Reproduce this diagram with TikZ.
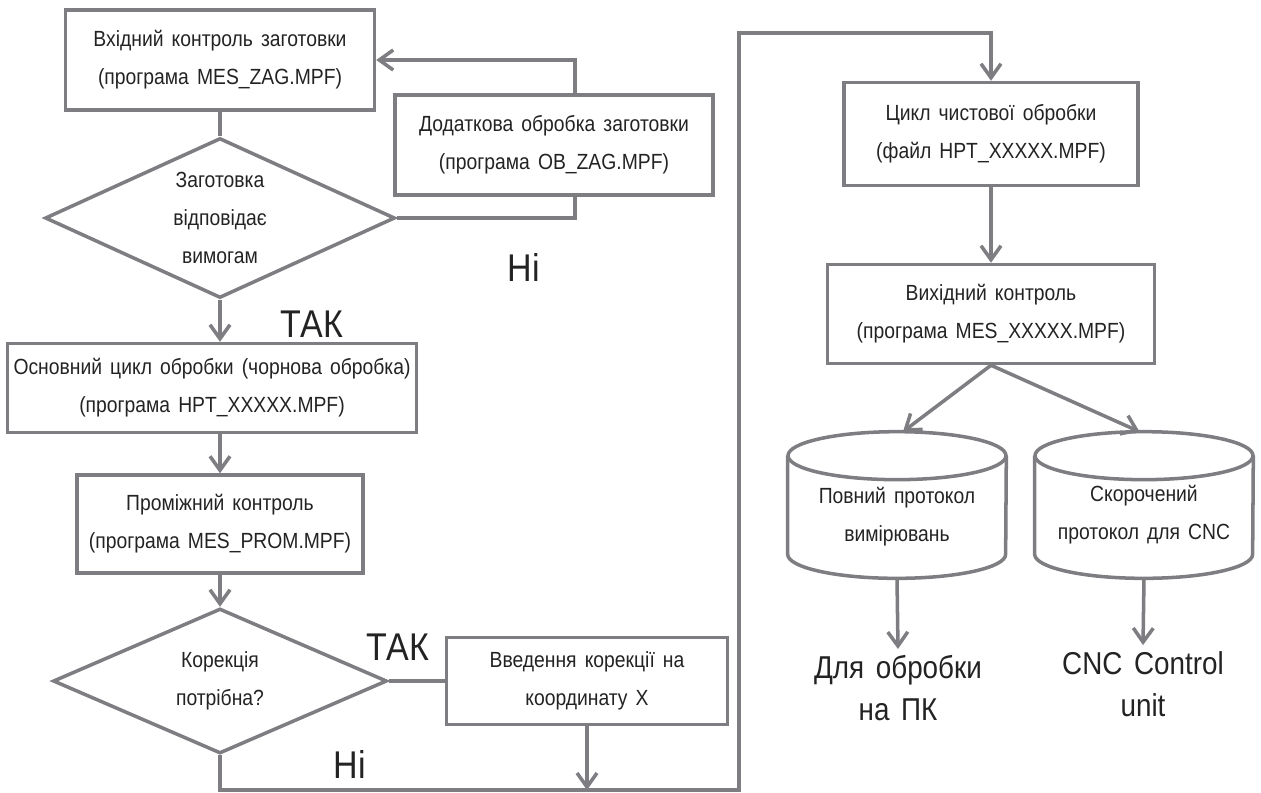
\documentclass[tikz,border=0pt]{standalone}
\usepackage{fontspec}
\setmainfont{Liberation Sans}[FakeStretch=0.88,WordSpace=1.5]
\usetikzlibrary{shapes.geometric,arrows.meta,calc}
\definecolor{linegray}{RGB}{125,125,130}
\definecolor{textgray}{RGB}{35,35,35}

\begin{document}
\begin{tikzpicture}[x=0.02cm,y=-0.02cm,
	conn/.style={draw=linegray,line width=2pt},
	arr/.style={conn,-{Straight Barb[length=2.8mm,width=4mm]}},
	box/.style={draw=linegray,line width=2pt,align=center,text=textgray,font=\fontsize{12.5}{21.5}\selectfont},
	dia/.style={diamond,draw=linegray,line width=2pt,inner sep=0pt},
	txt/.style={align=center,text=textgray,font=\fontsize{12.5}{21.5}\selectfont},
	answer/.style={text=textgray,font=\fontsize{22}{26}\selectfont},
	dest/.style={align=center,text=textgray,font=\fontsize{18}{24}\selectfont}]
	\useasboundingbox (0,0) rectangle (1261,792);
	
	
	
	% left column
	\node[box,minimum width=6.18cm,minimum height=2cm] (in1) at (220,60) {Вхідний контроль заготовки\\(програма MES\_ZAG.MPF)};
	\node[dia,minimum width=7cm,minimum height=3.2cm,label={[txt]center:Заготовка\\відповідає\\вимогам}] (d1) at (220,218) {};
	\node[box,minimum width=6.36cm,minimum height=2cm] (extra) at (554,145) {Додаткова обробка заготовки\\(програма OB\_ZAG.MPF)};
	\node[box,minimum width=8.1cm,minimum height=1.78cm] (rough) at (212,388) {Основний цикл обробки (чорнова обробка)\\(програма HPT\_XXXXX.MPF)};
	\node[box,minimum width=5.72cm,minimum height=1.96cm] (mid) at (220,524) {Проміжний контроль\\(програма MES\_PROM.MPF)};
	\node[dia,minimum width=6.68cm,minimum height=2.9cm,label={[txt]center:Корекція\\потрібна?}] (d2) at (220,681) {};
	\node[box,minimum width=5.62cm,minimum height=1.74cm] (corr) at (587,681) {Введення корекції на\\координату X};
	
	
	
	% right column
	\node[box,minimum width=5.88cm,minimum height=2.06cm] (fin) at (991,134) {Цикл чистової обробки\\(файл HPT\_XXXXX.MPF)};
	\node[box,minimum width=6.54cm,minimum height=1.98cm] (out) at (991,314) {Вихідний контроль\\(програма MES\_XXXXX.MPF)};
	\node[minimum width=4.36cm,minimum height=2.92cm,label={[txt,yshift=-0.24cm]center:Повний протокол\\вимірювань}] (cylL) at (897,505) {};
	\node[minimum width=4.36cm,minimum height=2.92cm,label={[txt,yshift=-0.2cm]center:Скорочений\\протокол для CNC}] (cylR) at (1144,505) {};
	\node[dest] (pc) at (898,688) {Для обробки\\на ПК};
	\node[dest] (cnc) at (1143,684) {CNC Control\\unit};
	
	
	
	% cylinders
	\foreach \c in {cylL,cylR} {
		\draw[conn] (\c.north) ++(0cm,-0.48cm) ellipse [x radius=2.18cm,y radius=0.48cm];
		\draw[conn] ([yshift=-0.48cm]\c.north west) -- ([yshift=0.48cm]\c.south west) arc[start angle=180,end angle=360,x radius=2.18cm,y radius=0.48cm] -- ([yshift=-0.48cm]\c.north east);
	}
	
	
	
	% flow of the left column
	\draw[conn] (in1.south) -- (d1.north);
	\draw[conn] (d1.east) -| ([xshift=0.42cm]extra.south);
	\draw[arr] ([xshift=0.42cm]extra.north) |- (in1.east);
	\draw[arr] (d1.south) -- (d1.south |- rough.north);
	\draw[arr] (rough.south -| mid.north) -- (mid.north);
	\draw[arr] (mid.south) -- (d2.north);
	\draw[conn] (d2.east) -- (corr.west);
	
	\node[answer] (yes1) at (312,324) {ТАК};
	\node[answer] (no1) at (524,267) {Ні};
	\node[answer] (yes2) at (398,647) {ТАК};
	\node[answer] (no2) at (350,764) {Ні};
	
	
	
	% return to the finishing cycle
	\coordinate (c1) at (220,790);
	\coordinate (c2) at (739,790);
	\coordinate (c3) at (739,33);
	\draw[arr] (d2.south) -- (c1) -- (c2) -- (c3) -| (fin.north);
	\draw[arr] (corr.south) -- (corr.south |- c1);
	
	
	
	% flow of the right column
	\draw[arr] (fin.south) -- (out.north);
	\draw[arr] (out.south) -- ([xshift=0.12cm]cylL.north);
	\draw[arr] (out.south) -- ([xshift=-0.09cm]cylR.north);
	\draw[arr] (cylL.south) -- (pc.north);
	\draw[arr] (cylR.south) -- (cnc.north);
	
\end{tikzpicture}
\end{document}
